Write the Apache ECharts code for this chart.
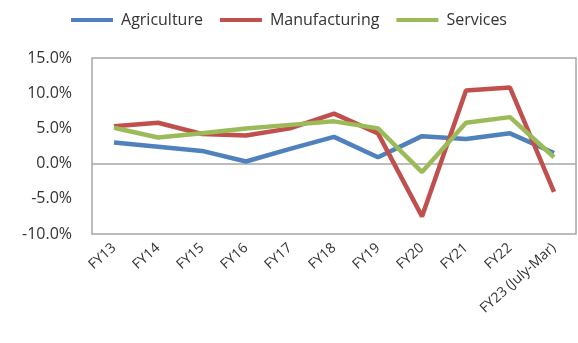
<!DOCTYPE html>
<html><head><meta charset="utf-8">
<script src="https://cdn.jsdelivr.net/npm/echarts@6/dist/echarts.min.js"></script>
<style>html,body{margin:0;padding:0;background:#fff}#c{width:578px;height:343px}</style>
</head><body><div id="c"></div>
<script>
var categories = ['FY13','FY14','FY15','FY16','FY17','FY18','FY19','FY20','FY21','FY22','FY23 (July-Mar)'];
var agriculture = [3.0, 2.4, 1.8, 0.3, 2.1, 3.8, 0.9, 3.9, 3.5, 4.3, 1.5];
var manufacturing = [5.3, 5.8, 4.2, 4.0, 5.0, 7.1, 4.3, -7.5, 10.4, 10.8, -4.0];
var services = [5.1, 3.7, 4.3, 5.0, 5.5, 6.0, 5.0, -1.2, 5.8, 6.6, 0.9];
var yTicks = [-10, -5, 0, 5, 10, 15];

var font = '"Open Sans", "Noto Sans", sans-serif';
var chart = echarts.init(document.getElementById('c'));
function line(name, data, color, extra) {
  var s = {name: name, type: 'line', data: data, symbol: 'none', smooth: false,
    lineStyle: {width: 4.5, color: color}, itemStyle: {color: color}, z: 3};
  if (extra) Object.assign(s, extra);
  return s;
}
chart.setOption({
  animation: false,
  textStyle: {fontFamily: font},
  legend: {
    top: 7, left: 'center', itemWidth: 42, itemHeight: 4, itemGap: 17,
    icon: 'rect',
    textStyle: {fontFamily: font, fontSize: 16, color: '#333', padding: [0,0,0,3]},
    data: ['Agriculture','Manufacturing','Services']
  },
  grid: {left: 92, right: 2, top: 58, bottom: 109, show: true, borderColor: '#a6a6a6', borderWidth: 1.5, backgroundColor: 'transparent'},
  xAxis: {
    type: 'category', data: categories, boundaryGap: true,
    axisLine: {show: false}, axisTick: {show: false},
    axisLabel: {rotate: 42, interval: 0, margin: 12, fontFamily: font, fontSize: 14, color: '#333'}
  },
  yAxis: {
    type: 'value', min: yTicks[0], max: yTicks[yTicks.length-1], interval: 5,
    axisLine: {show: false}, axisTick: {show: false}, splitLine: {show: false},
    axisLabel: {margin: 20, fontFamily: font, fontSize: 16, color: '#333',
      formatter: function(v){ return v.toFixed(1) + '%'; }}
  },
  series: [
    line('Agriculture', agriculture, '#4f81bd', {
      markLine: {silent: true, symbol: 'none', label: {show: false},
        lineStyle: {color: '#a6a6a6', width: 1.5, type: 'solid'}, data: [{yAxis: 0}], z: 1}
    }),
    line('Manufacturing', manufacturing, '#c0504d'),
    line('Services', services, '#9bbb59')
  ]
});
</script></body></html>
